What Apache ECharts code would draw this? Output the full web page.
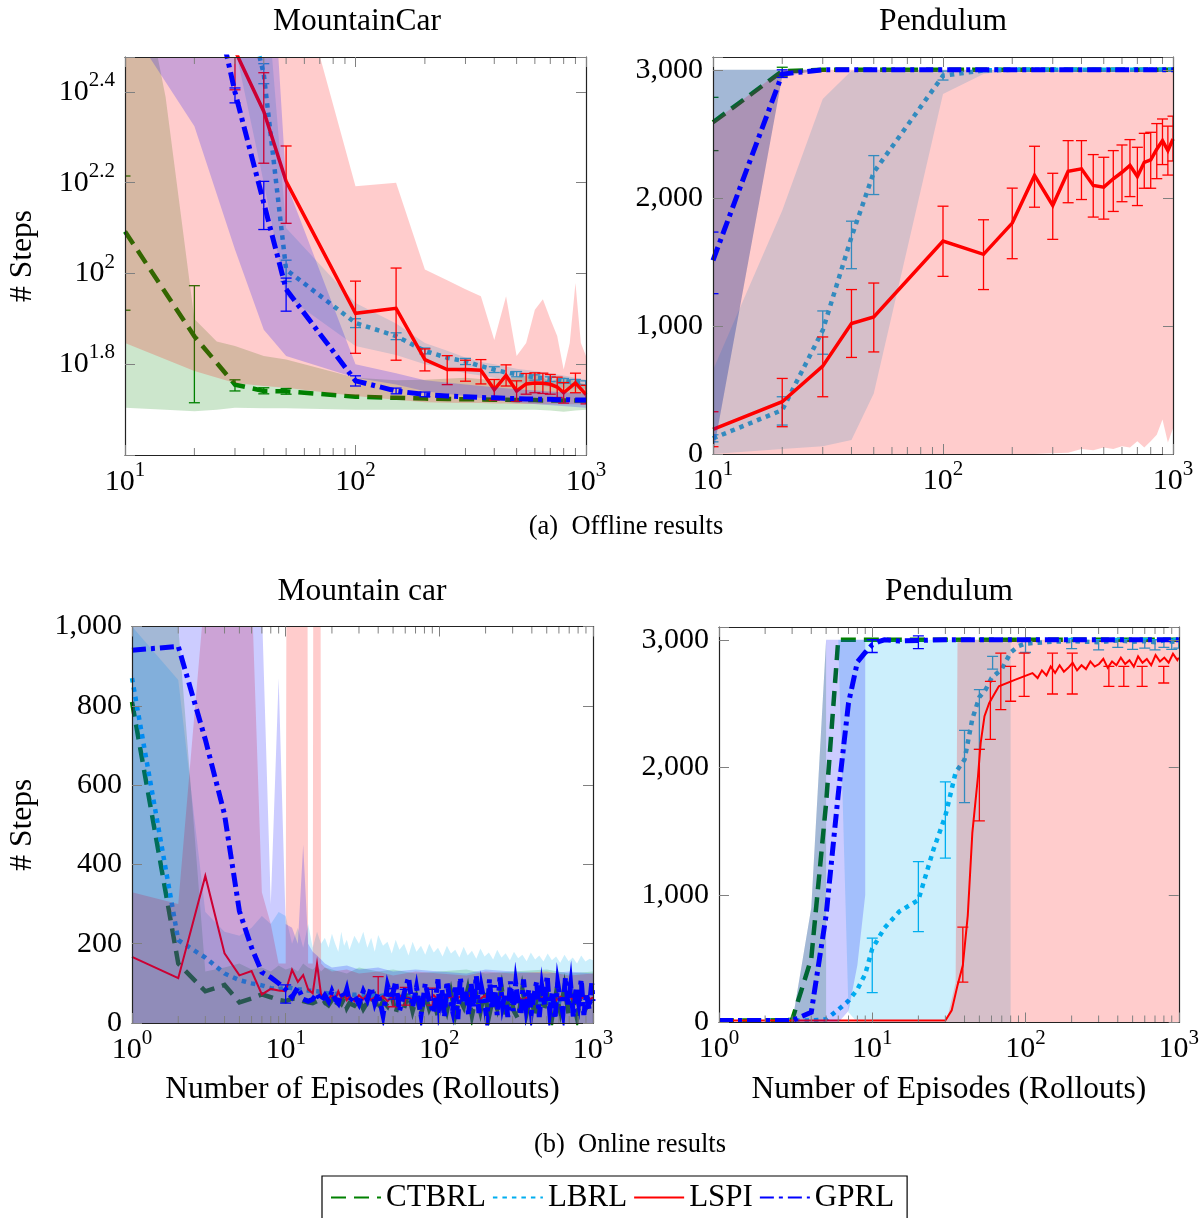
<!DOCTYPE html>
<html>
<head>
<meta charset="utf-8">
<script src="https://cdn.jsdelivr.net/npm/echarts@6/dist/echarts.min.js"></script>
<style>html,body{margin:0;padding:0;background:#fff}#c{width:1202px;height:1218px}</style>
</head>
<body>
<div id="c"></div>
<script>
// ================= DATA =================
const METHODS = ['CTBRL', 'LBRL', 'LSPI', 'GPRL'];
const MINOR_MULT = [2, 3, 4, 5, 6, 7, 8, 9];

// ---- (a) Offline, MountainCar (log y) ----
const OFF_X = [10,20,30,40,50,100,150,200,250,300,350,400,450,500,550,600,650,700,750,800,850,900,950,1000];
const TL_CTBRL = [123.8,72.7,56.9,55.1,55.0,53.5,53.2,53.0,52.9,52.8,52.8,52.7,52.7,52.6,52.6,52.6,52.5,52.5,52.5,52.5,52.5,52.5,52.5,52.5];
const TL_LBRL  = [900,700,500,275,102,77.8,72.8,67.5,65.2,64.0,62.5,61.4,60.5,60.0,59.5,59.0,58.8,58.5,58.2,58.0,57.8,57.7,57.5,57.4];
const TL_LSPI  = [794,501,310,227.5,159.6,81.7,83.8,64.6,61.4,61.4,61.2,55.5,59.6,55.1,57.1,57.4,57.3,57.0,56.2,54.6,56.0,57.4,55.7,54.1];
const TL_GPRL  = [1000,630,251,143,92.3,58.0,55.1,54.1,53.7,53.5,53.3,53.2,53.1,53.0,52.9,52.9,52.8,52.8,52.7,52.7,52.7,52.6,52.6,52.6];
const TL_CTBRL_EX = [10,20,30,40,50];
const TL_CTBRL_EL = [83,51.9,55.1,54.3,54.2];
const TL_CTBRL_EH = [164,94,58.3,56.0,55.8];
const TL_LBRL_EX = [40,50,100,150,200,300,400,500,600,700,800,900,1000];
const TL_LBRL_EL = [262,96,76,71.5,66.5,63,60.5,59.2,58.2,57.8,57.3,57.0,56.8];
const TL_LBRL_EH = [290,107,79.5,74,68.5,65,62.3,60.8,59.8,59.2,58.7,58.4,58.0];
const TL_LSPI_EX = [30,40,50,100,150,200,250,300,350,400,450,500,550,600,650,700,750,800,900,1000];
const TL_LSPI_EL = [254,175,129,66.7,64.4,61,56.9,57.9,57.1,52.6,56.5,52.3,54.2,54.6,54.4,54.2,53.3,51.8,54.6,51.6];
const TL_LSPI_EH = [370,277,191,96.2,102.8,68.2,65.9,64.4,64.6,58.4,62.9,58.0,60.2,60.4,60.3,59.9,59.1,57.5,60.3,56.7];
const TL_GPRL_EX = [30,40,50,100,150,200];
const TL_GPRL_EL = [237.7,125,82.6,56.5,54.3,53.5];
const TL_GPRL_EH = [256.4,159.6,97.7,59.5,55.9,54.8];
const TL_CTBRL_BX = [10,15,20,25,30,40,50,100,150,200,300,400,500,600,700,800,900,1000];
const TL_CTBRL_BL = [50.6,50.1,49.7,50.1,50.6,50.5,50.5,50.1,50.1,50.1,50.1,50.1,50.1,50.1,49.9,49.6,49.9,50.1];
const TL_CTBRL_BH = [692,245,79.4,70.8,69.2,65.8,64.6,58.9,58.2,58.3,58.9,58.2,58.9,60.3,57.8,59.2,57.8,56.9];
const TL_LBRL_BX = [10,20,30,40,50,100,150,200,250,300,350,400,500,600,700,800,900,1000];
const TL_LBRL_BL = [794,501,316,158.5,89.1,69.2,66.1,63.1,61.7,60.3,59.6,58.9,57.5,56.9,56.2,56.0,55.7,55.6];
const TL_LBRL_BH = [1000,1000,1000,501,125.9,86.1,77.6,70.3,67.6,65.3,63.8,63.1,61.7,61.0,60.3,59.6,58.9,58.3];
const TL_LSPI_BL = [70.3,61.0,57.4,56.5,56.0,53.7,52.7,52.0,51.9,51.8,51.8,51.7,51.7,51.6,51.6,51.6,51.5,51.5,51.5,51.5,51.5,51.5,51.5,51.5];
const TL_LSPI_BH = [1000,1000,1000,1000,562,155.6,158.5,102,96.6,92.3,89.1,71.4,89.1,65.8,70.3,83.2,87.7,79.4,72.8,61.4,70.3,95.3,70.3,65.8];
const TL_GPRL_BX = [10,20,30,40,50,100,150,200,300,500,1000];
const TL_GPRL_BL = [363,211,113,75.2,65.8,58.9,56.9,55.0,53.7,51.9,50.6];
const TL_GPRL_BH = [1000,1000,1000,1000,158.5,63.1,60.3,58.2,56.9,55.6,54.3];

// ---- (a) Offline, Pendulum ----
const TR_CTBRL = [2590,2990,3000,3000,3000,3000,3000,3000,3000,3000,3000,3000,3000,3000,3000,3000,3000,3000,3000,3000,3000,3000,3000,3000];
const TR_LBRL  = [122,343,966,1694,2200,2954,2995,3000,3000,3000,3000,3000,3000,3000,3000,3000,3000,3000,3000,3000,3000,3000,3000,3000];
const TR_LSPI  = [192,408,686,1019,1070,1663,1559,1803,2175,1941,2208,2227,2097,2084,2149,2200,2253,2167,2278,2297,2380,2447,2369,2460];
const TR_GPRL  = [1512,2967,3000,3000,3000,3000,3000,3000,3000,3000,3000,3000,3000,3000,3000,3000,3000,3000,3000,3000,3000,3000,3000,3000];
const TR_CTBRL_EX = [10,20];
const TR_CTBRL_EL = [2369,2950];
const TR_CTBRL_EH = [2785,3020];
const TR_LBRL_EX = [10,20,30,40,50,100,150];
const TR_LBRL_EL = [95,226,779,1447,2026,2920,2985];
const TR_LBRL_EH = [150,447,1117,1818,2330,2990,3005];
const TR_LSPI_EL = [57,213,447,754,797,1387,1284,1525,1927,1676,1962,1987,1850,1834,1894,1970,2010,1940,2075,2075,2150,2260,2178,2288];
const TR_LSPI_EH = [330,590,914,1284,1335,1935,1829,2076,2403,2192,2447,2447,2338,2317,2369,2413,2455,2395,2504,2512,2580,2616,2560,2638];
const TR_GPRL_EX = [10,20];
const TR_GPRL_EL = [1252,2940];
const TR_GPRL_EH = [1733,3000];
const TR_CTBRL_BX = [10,20,30];
const TR_CTBRL_BL = [0,2950,3000];
const TR_CTBRL_BH = [3000,3000,3000];
const TR_LBRL_BX = [10,20,30,40,50,100,150,200];
const TR_LBRL_BL = [0,40,60,109,473,2811,2967,3000];
const TR_LBRL_BH = [655,1902,2773,2992,3000,3000,3000,3000];
const TR_LSPI_BL = [0,0,0,0,0,0,0,0,0,5,10,40,30,50,40,60,50,100,50,100,150,270,90,200];
const TR_LSPI_BH = [2590,3000,3000,3000,3000,3000,3000,3000,3000,3000,3000,3000,3000,3000,3000,3000,3000,3000,3000,3000,3000,3000,3000,3000];
const TR_GPRL_BX = [10,20,30];
const TR_GPRL_BL = [0,2950,3000];
const TR_GPRL_BH = [3000,3000,3000];

// ---- (b) Online, Mountain car ----
const BL_X = [1,2,3,4,5,6,7,8,9,10,11,12,13,14,15,16,17,
  18,19,20,21,22,23,24,25,26,28,30,32,34,36,38,40,43,46,49,52,55,59,63,67,71,76,81,86,92,98,
  105,112,119,127,135,144,153,163,174,185,197,210,224,238,254,270,288,306,326,347,370,394,
  420,447,476,507,540,575,612,652,694,739,787,838,893,951,1000];
const BL_CTBRL = [810,150,80,96,52,62,72,65,58,55,62,60,55,52,50,55,46,
  52,45,58,40,55,48,62,38,50,44,60,35,52,47,65,30,55,42,70,25,60,38,75,30,65,20,72,35,60,15,
  68,30,78,20,62,40,85,18,70,28,80,15,65,35,90,20,72,30,10,85,25,70,15,80,30,65,10,75,28,90,
  22,60,12,78,35,55,40];
const BL_LBRL = [870,209,165,125,108,100,95,88,85,90,88,85,84,82,81,80,78,
  76,74,77,73,75,72,74,70,73,71,72,69,71,68,70,67,69,66,68,65,67,64,66,63,65,62,64,61,63,60,
  62,59,61,58,60,58,59,57,58,56,58,55,57,56,57,55,56,54,56,55,56,54,55,53,55,54,55,53,54,52,
  54,53,54,52,53,52,53];
const BL_LSPI = [167,113,371,176,120,131,72,86,82,80,134,104,121,85,75,150,71,
  65,60,72,58,80,62,75,58,68,55,70,60,72,58,65,60,68,55,66,62,70,58,64,60,68,56,66,60,70,58,
  64,62,68,57,66,60,72,58,64,61,69,57,65,60,70,58,66,62,68,56,64,60,72,58,65,61,68,57,66,60,
  70,59,64,62,68,58,65];
const BL_GPRL_X = [1,2,3,4,5,6,7,8,9,10,11,12,13,14,15,16,17,
  18,19,20,21,22,23,24,25,26,28,30,32,34,36,38,40,43,46,49,52,55,59,63,67,71,76,81,86,92,98,
  100,104,108,112,117,122,127,132,137,143,149,155,161,167,174,181,188,196,204,212,220,229,238,248,258,268,279,290,302,314,
  327,340,353,367,382,397,413,430,447,465,484,503,523,544,566,589,612,637,662,689,716,745,775,806,838,872,907,943,981,1000];
const BL_GPRL = [940,950,715,526,282,190,128,115,100,85,65,90,60,55,60,75,55,
  70,55,80,60,50,75,62,85,55,70,48,80,58,90,50,75,20,95,60,105,30,75,115,40,90,20,100,55,25,110,
  45,85,15,105,60,30,95,10,115,50,80,20,100,40,120,25,90,55,10,110,35,95,20,115,45,75,15,105,30,100,
  50,20,110,40,85,25,70,105,15,90,45,120,30,80,10,100,60,25,115,40,95,15,85,50,110,20,75,35,100,55];
const BL_LSPI_EX = [40,50,60,90];
const BL_LSPI_EL = [62,41,45,45];
const BL_LSPI_EH = [117,87,90,88];
const BL_GPRL_EX = [10,50,60,90];
const BL_GPRL_EL = [50,60,62,58];
const BL_GPRL_EH = [96,87,85,85];
const BL_BX = [1,2,3,4,5,6,7,8,9,10,11,12,13,14,15,16,17,18,20,25,30,40,50,70,100,150,200,300,500,700,1000];
const BL_CTBRL_BH = [1100,1000,130,140,150,135,140,130,145,135,140,130,150,140,135,145,130,140,135,125,140,130,135,125,130,135,125,130,135,125,130];
const BL_LBRL_BH = [1000,865,280,230,220,240,270,250,280,270,200,240,190,250,190,230,200,
  215,190,225,200,180,230,195,210,185,220,200,230,190,215,180,222,195,205,175,210,185,200,170,205,180,195,172,200,178,190,
  168,195,175,185,165,192,170,182,162,188,168,178,160,185,165,176,158,180,163,172,156,178,160,170,155,175,158,168,152,172,
  156,165,150,170,155,162,158];
const BL_LSPI_BH = [330,300,1100,1500,1500,1100,330,250,150,150,8000,8000,8000,150,150,8000,150,140,130,135,125,130,120,130,125,120,130,125,130,120,125];
const BL_GPRL_BH = [1100,1100,1100,1100,1100,1100,1050,300,870,250,240,200,450,200,180,170,160,150,140,145,135,140,130,135,130,125,135,130,125,130,125];

// ---- (b) Online, Pendulum ----
const BR_CTBRL_X = [1,2,3,4,5,6,10,100,1000];
const BR_CTBRL = [15,15,20,500,1720,3000,3000,3000,3000];
const BR_LBRL_X = [1,2,3,4,5,6,7,8,9,10,12,15,20,25,30,35,40,45,50,55,60,70,80,90,100,150,200,300,400,500,600,700,800,900,1000];
const BR_LBRL = [15,15,15,15,25,100,170,260,380,578,740,870,960,1350,1620,1960,2060,2380,2550,2610,2700,2770,2900,2950,2970,2985,2990,2980,2995,2985,2990,2980,2995,2985,2990];
const BR_LSPI_X = [1,2,5,10,20,30,33,36,39,42,45,49,51,54,58,67,86,111,
  120,128,137,146,156,167,178,190,203,217,232,248,265,283,302,322,344,367,392,419,447,477,509,543,580,619,661,706,754,805,859,917,979,1000];
const BR_LSPI = [15,15,15,15,15,15,96,291,448,838,1489,1932,2192,2401,2505,2635,2688,2739,
  2700,2760,2720,2790,2740,2800,2750,2780,2820,2760,2800,2770,2830,2790,2810,2850,2780,2830,2800,2860,2810,2840,2790,2870,2820,2850,2800,2880,2830,2860,2820,2890,2840,2860];
const BR_GPRL_X = [1,2,3,4,5,6,7,8,9,10,11,12,15,20,30,50,100,1000];
const BR_GPRL = [15,15,15,80,840,1790,2504,2826,2900,2960,2985,3000,2990,2995,3000,3000,3000,3000];
const BR_LBRL_EX = [10,20,30,40,50,61,100,200,300,400,500,600,700,800,900,1000];
const BR_LBRL_EL = [234,712,1289,1723,2141,2770,2900,2930,2920,2940,2925,2935,2920,2940,2925,2935];
const BR_LBRL_EH = [661,1261,1886,2289,2609,2870,3000,3010,3000,3010,3005,3010,3000,3010,3005,3010];
const BR_LSPI_EX = [39,50,59,69,80,98,150,202,350,438,577,798];
const BR_LSPI_EL = [317,1580,2219,2453,2518,2557,2575,2575,2635,2635,2635,2661];
const BR_LSPI_EH = [747,2141,2674,2895,2791,2895,2895,2895,2791,2791,2791,2791];
const BR_GPRL_EX = [10,20];
const BR_GPRL_EL = [2900,2930];
const BR_GPRL_EH = [3000,3030];
const BR_CTBRL_BX = [3,4,5];
const BR_CTBRL_BL = [0,0,0];
const BR_CTBRL_BH = [0,900,3000];
const BR_LBRL_BX = [6,7,8,80];
const BR_LBRL_BL = [3000,80,0,0];
const BR_LBRL_BH = [3000,3000,3000,3000];
const BR_LSPI_BX = [30,31,35,36,1000];
const BR_LSPI_BL = [0,0,0,0,0];
const BR_LSPI_BH = [0,44,316,3000,3000];
const BR_GPRL_BX = [3,4,5,6,7,8,9];
const BR_GPRL_BL = [0,0,0,0,90,450,1000];
const BR_GPRL_BH = [0,900,3000,3000,3000,3000,3000];

// ================= STYLE =================
const FONT = "'Liberation Serif', 'Times New Roman', serif";
const COLORS = {CTBRL: '#008000', LBRL: '#00aeef', LSPI: '#ff0000', GPRL: '#0000ff'};
const DASH = {CTBRL: [15, 8], LBRL: [4.5, 5], LSPI: 'solid', GPRL: [14, 5, 4, 5]};
const W_TOP = {CTBRL: 4.5, LBRL: 4.5, LSPI: 3.5, GPRL: 5};
const W_BOT = {CTBRL: 4.5, LBRL: 4.5, LSPI: 2, GPRL: 5};
const lg = Math.log10;

const PANELS = [
  {gi: 0, grid: {left: 125, top: 57, width: 461, height: 398}, xMin: 1, xMax: 3, logY: true,
   yMin: 1.6, yMax: lg(300), yInt: 0.2, W: W_TOP, yName: '# Steps', xName: '',
   data: {
     CTBRL: {x: OFF_X, y: TL_CTBRL, ex: TL_CTBRL_EX, el: TL_CTBRL_EL, eh: TL_CTBRL_EH, bx: TL_CTBRL_BX, bl: TL_CTBRL_BL, bh: TL_CTBRL_BH},
     LBRL:  {x: OFF_X, y: TL_LBRL, ex: TL_LBRL_EX, el: TL_LBRL_EL, eh: TL_LBRL_EH, bx: TL_LBRL_BX, bl: TL_LBRL_BL, bh: TL_LBRL_BH},
     LSPI:  {x: OFF_X, y: TL_LSPI, ex: TL_LSPI_EX, el: TL_LSPI_EL, eh: TL_LSPI_EH, bx: OFF_X, bl: TL_LSPI_BL, bh: TL_LSPI_BH},
     GPRL:  {x: OFF_X, y: TL_GPRL, ex: TL_GPRL_EX, el: TL_GPRL_EL, eh: TL_GPRL_EH, bx: TL_GPRL_BX, bl: TL_GPRL_BL, bh: TL_GPRL_BH}
   }},
  {gi: 1, grid: {left: 713, top: 57, width: 460, height: 397}, xMin: 1, xMax: 3, logY: false,
   yMin: 0, yMax: 3100, yInt: 1000, W: W_TOP, yName: '', xName: '',
   data: {
     CTBRL: {x: OFF_X, y: TR_CTBRL, ex: TR_CTBRL_EX, el: TR_CTBRL_EL, eh: TR_CTBRL_EH, bx: TR_CTBRL_BX, bl: TR_CTBRL_BL, bh: TR_CTBRL_BH},
     LBRL:  {x: OFF_X, y: TR_LBRL, ex: TR_LBRL_EX, el: TR_LBRL_EL, eh: TR_LBRL_EH, bx: TR_LBRL_BX, bl: TR_LBRL_BL, bh: TR_LBRL_BH},
     LSPI:  {x: OFF_X, y: TR_LSPI, ex: OFF_X, el: TR_LSPI_EL, eh: TR_LSPI_EH, bx: OFF_X, bl: TR_LSPI_BL, bh: TR_LSPI_BH},
     GPRL:  {x: OFF_X, y: TR_GPRL, ex: TR_GPRL_EX, el: TR_GPRL_EL, eh: TR_GPRL_EH, bx: TR_GPRL_BX, bl: TR_GPRL_BL, bh: TR_GPRL_BH}
   }},
  {gi: 2, grid: {left: 132, top: 626.5, width: 461, height: 396.5}, xMin: 0, xMax: 3, logY: false,
   yMin: 0, yMax: 1000, yInt: 200, W: W_BOT, yName: '# Steps', xName: 'Number of Episodes (Rollouts)',
   data: {
     CTBRL: {x: BL_X, y: BL_CTBRL, bx: BL_BX, bl: null, bh: BL_CTBRL_BH},
     LBRL:  {x: BL_X, y: BL_LBRL, bx: BL_X, bl: null, bh: BL_LBRL_BH},
     LSPI:  {x: BL_X, y: BL_LSPI, ex: BL_LSPI_EX, el: BL_LSPI_EL, eh: BL_LSPI_EH, bx: BL_BX, bl: null, bh: BL_LSPI_BH},
     GPRL:  {x: BL_GPRL_X, y: BL_GPRL, ex: BL_GPRL_EX, el: BL_GPRL_EL, eh: BL_GPRL_EH, bx: BL_BX, bl: null, bh: BL_GPRL_BH}
   }},
  {gi: 3, grid: {left: 719, top: 627, width: 461, height: 395.5}, xMin: 0, xMax: 3, logY: false,
   yMin: 0, yMax: 3100, yInt: 1000, W: W_BOT, yName: '', xName: 'Number of Episodes (Rollouts)',
   data: {
     CTBRL: {x: BR_CTBRL_X, y: BR_CTBRL, bx: BR_CTBRL_BX, bl: BR_CTBRL_BL, bh: BR_CTBRL_BH},
     LBRL:  {x: BR_LBRL_X, y: BR_LBRL, ex: BR_LBRL_EX, el: BR_LBRL_EL, eh: BR_LBRL_EH, bx: BR_LBRL_BX, bl: BR_LBRL_BL, bh: BR_LBRL_BH},
     LSPI:  {x: BR_LSPI_X, y: BR_LSPI, ex: BR_LSPI_EX, el: BR_LSPI_EL, eh: BR_LSPI_EH, bx: BR_LSPI_BX, bl: BR_LSPI_BL, bh: BR_LSPI_BH},
     GPRL:  {x: BR_GPRL_X, y: BR_GPRL, ex: BR_GPRL_EX, el: BR_GPRL_EL, eh: BR_GPRL_EH, bx: BR_GPRL_BX, bl: BR_GPRL_BL, bh: BR_GPRL_BH}
   }}
];

const RICH = {
  b: {fontFamily: FONT, fontSize: 30, color: '#000', lineHeight: 44},
  e: {fontFamily: FONT, fontSize: 21, color: '#000', lineHeight: 17, verticalAlign: 'top'}
};
const AXLINE = {show: true, onZero: false, lineStyle: {color: '#222', width: 1.2}};
const TICK = {show: true, inside: true, length: 10, lineStyle: {color: '#808080', width: 1}};
const NAME_STYLE = {fontFamily: FONT, fontSize: 31.5, color: '#000'};
const Z_AXIS = 60;

// clip a pixel polygon to yTop <= y <= yBot (Sutherland-Hodgman)
function clipEdge(poly, keep, yEdge) {
  const out = [];
  for (let i = 0; i < poly.length; i++) {
    const cur = poly[i], prev = poly[(i + poly.length - 1) % poly.length];
    const ci = keep(cur), pi = keep(prev);
    const cross = function () {
      const t = (yEdge - prev[1]) / (cur[1] - prev[1]);
      return [prev[0] + t * (cur[0] - prev[0]), yEdge];
    };
    if (ci) { if (!pi) out.push(cross()); out.push(cur); }
    else if (pi) out.push(cross());
  }
  return out;
}

const grids = [], xAxes = [], yAxes = [], series = [];

function yLabel(p) {
  if (p.logY) {
    return function (v) {
      const r = Math.round(v * 5) / 5;
      if (Math.abs(v - r) > 1e-6 || r < 1.7) return '';
      return '{b|10}{e|' + (+r.toFixed(1)) + '}';
    };
  }
  return function (v) {
    if (Math.abs(v / p.yInt - Math.round(v / p.yInt)) > 1e-6) return '';
    return '{b|' + Math.round(v).toLocaleString('en-US') + '}';
  };
}

PANELS.forEach(function (p) {
  grids.push(Object.assign({containLabel: false}, p.grid));
  xAxes.push({type: 'value', gridIndex: p.gi, position: 'bottom', min: p.xMin, max: p.xMax, interval: 1, z: Z_AXIS,
    axisLine: AXLINE, axisTick: TICK, splitLine: {show: false},
    axisLabel: {margin: 5, formatter: function (v) { return '{b|10}{e|' + Math.round(v) + '}'; }, rich: RICH},
    name: p.xName, nameLocation: 'middle', nameGap: 51, nameTextStyle: NAME_STYLE});
  xAxes.push({type: 'value', gridIndex: p.gi, position: 'top', min: p.xMin, max: p.xMax, interval: 1, z: Z_AXIS,
    axisLine: AXLINE, axisTick: TICK, splitLine: {show: false}, axisLabel: {show: false}});
  yAxes.push({type: 'value', gridIndex: p.gi, position: 'left', min: p.yMin, max: p.yMax, interval: p.yInt, z: Z_AXIS,
    axisLine: AXLINE, axisTick: TICK, splitLine: {show: false},
    axisLabel: {margin: 10, formatter: yLabel(p), rich: RICH, hideOverlap: false, showMinLabel: true, showMaxLabel: true},
    name: p.yName, nameLocation: 'middle', nameGap: p.gi === 0 ? 86 : 93, nameTextStyle: NAME_STYLE});
  yAxes.push({type: 'value', gridIndex: p.gi, position: 'right', min: p.yMin, max: p.yMax, interval: p.yInt, z: Z_AXIS,
    axisLine: AXLINE, axisTick: TICK, splitLine: {show: false}, axisLabel: {show: false}});

  const xa = 2 * p.gi, ya = 2 * p.gi;
  const fy = p.logY ? lg : function (v) { return v; };
  const yMinT = p.yMin, yMaxT = p.yMax;
  let zc = 2;

  METHODS.forEach(function (m) {
    const d = p.data[m];
    const col = COLORS[m];
    // mean line
    series.push({
      type: 'line', name: p.gi === 0 ? m : m + '_' + p.gi, xAxisIndex: xa, yAxisIndex: ya, z: zc++,
      data: d.x.map(function (x, i) { return [lg(x), fy(d.y[i])]; }),
      symbol: 'none', showSymbol: false, clip: true, silent: true, smooth: false,
      lineStyle: {color: col, width: p.W[m], type: DASH[m], cap: 'butt', join: 'miter'},
      itemStyle: {color: col}
    });
    // error bars
    if (d.ex) {
      series.push({
        type: 'custom', name: m + '_err_' + p.gi, xAxisIndex: xa, yAxisIndex: ya, silent: true, clip: true, z: zc++,
        data: d.ex.map(function (x, i) { return [lg(x), fy(d.el[i]), fy(d.eh[i])]; }),
        encode: {x: 0, y: [1, 2]},
        renderItem: function (params, api) {
          const x = api.value(0);
          let l = api.value(1), h = api.value(2);
          const tc = h > yMaxT, bc = l < yMinT;
          if (tc) h = yMaxT;
          if (bc) l = yMinT;
          const a = api.coord([x, l]), b = api.coord([x, h]);
          const st = {stroke: col, lineWidth: 1.3, fill: null};
          const ch = [{type: 'line', shape: {x1: a[0], y1: a[1], x2: b[0], y2: b[1]}, style: st}];
          if (!bc) ch.push({type: 'line', shape: {x1: a[0] - 5.5, y1: a[1], x2: a[0] + 5.5, y2: a[1]}, style: st});
          if (!tc) ch.push({type: 'line', shape: {x1: b[0] - 5.5, y1: b[1], x2: b[0] + 5.5, y2: b[1]}, style: st});
          return {type: 'group', children: ch};
        }
      });
    }
    // shaded band (one polygon through the axes' scales), drawn over the method's line
    if (d.bh) {
      const bx = d.bx, bl = d.bl, bh = d.bh;
      series.push({
        type: 'custom', name: 'band_' + m + '_' + p.gi, xAxisIndex: xa, yAxisIndex: ya, silent: true, clip: true, z: zc++,
        data: bx.map(function (x, i) { return [lg(x), fy(bh[i]), bl ? fy(bl[i]) : yMinT]; }),
        encode: {x: 0, y: [1, 2]},
        renderItem: function (params, api) {
          if (params.dataIndex !== 0) return null;
          const upper = bx.map(function (x, i) { return api.coord([lg(x), fy(bh[i])]); });
          const lower = bx.map(function (x, i) { return api.coord([lg(x), bl ? fy(bl[i]) : yMinT]); });
          let pts = upper.concat(lower.reverse());
          const yTop = api.coord([lg(bx[0]), yMaxT])[1];
          const yBot = api.coord([lg(bx[0]), yMinT])[1];
          pts = clipEdge(pts, function (q) { return q[1] >= yTop; }, yTop);
          pts = clipEdge(pts, function (q) { return q[1] <= yBot; }, yBot);
          if (pts.length < 3) return null;
          return {type: 'polygon', shape: {points: pts}, style: {fill: col, opacity: 0.2, stroke: null}};
        }
      });
    }
  });

  // minor ticks on the log x axis (top and bottom)
  const minor = [];
  for (let e = p.xMin; e < p.xMax; e++) {
    MINOR_MULT.forEach(function (k) { minor.push([e + lg(k), yMinT]); });
  }
  series.push({
    type: 'custom', name: 'minor_' + p.gi, xAxisIndex: xa, yAxisIndex: ya, silent: true, z: Z_AXIS,
    data: minor, encode: {x: 0, y: 1},
    renderItem: function (params, api) {
      const x = api.value(0);
      const pb = api.coord([x, yMinT]), pt = api.coord([x, yMaxT]);
      const st = {stroke: '#808080', lineWidth: 1};
      return {type: 'group', children: [
        {type: 'line', shape: {x1: pb[0], y1: pb[1], x2: pb[0], y2: pb[1] - 7}, style: st},
        {type: 'line', shape: {x1: pt[0], y1: pt[1], x2: pt[0], y2: pt[1] + 7}, style: st}
      ]};
    }
  });
});

const TS = {fontFamily: FONT, fontSize: 31.5, fontWeight: 'normal', color: '#000'};
const CS = {fontFamily: FONT, fontSize: 26.5, fontWeight: 'normal', color: '#000'};

const option = {
  animation: false,
  backgroundColor: '#fff',
  textStyle: {fontFamily: FONT},
  title: [
    {text: 'MountainCar', left: 357, top: 6, textAlign: 'center', padding: 0, textStyle: TS},
    {text: 'Pendulum', left: 943, top: 6, textAlign: 'center', padding: 0, textStyle: TS},
    {text: 'Mountain car', left: 362, top: 576, textAlign: 'center', padding: 0, textStyle: TS},
    {text: 'Pendulum', left: 949, top: 576, textAlign: 'center', padding: 0, textStyle: TS},
    {text: '(a)  Offline results', left: 626, top: 514, textAlign: 'center', padding: 0, textStyle: CS},
    {text: '(b)  Online results', left: 630, top: 1132, textAlign: 'center', padding: 0, textStyle: CS}
  ],
  legend: {
    data: METHODS, left: 322, top: 1176, orient: 'horizontal',
    itemWidth: 50, itemHeight: 14, itemGap: 6, selectedMode: false,
    itemStyle: {opacity: 0, borderWidth: 0},
    padding: [6, 13, 10, 8], borderColor: '#000', borderWidth: 1.2,
    textStyle: {fontFamily: FONT, fontSize: 31, color: '#000'}
  },
  grid: grids,
  xAxis: xAxes,
  yAxis: yAxes,
  series: series
};

const chart = echarts.init(document.getElementById('c'), null, {renderer: 'canvas'});
chart.setOption(option);
</script>
</body>
</html>
